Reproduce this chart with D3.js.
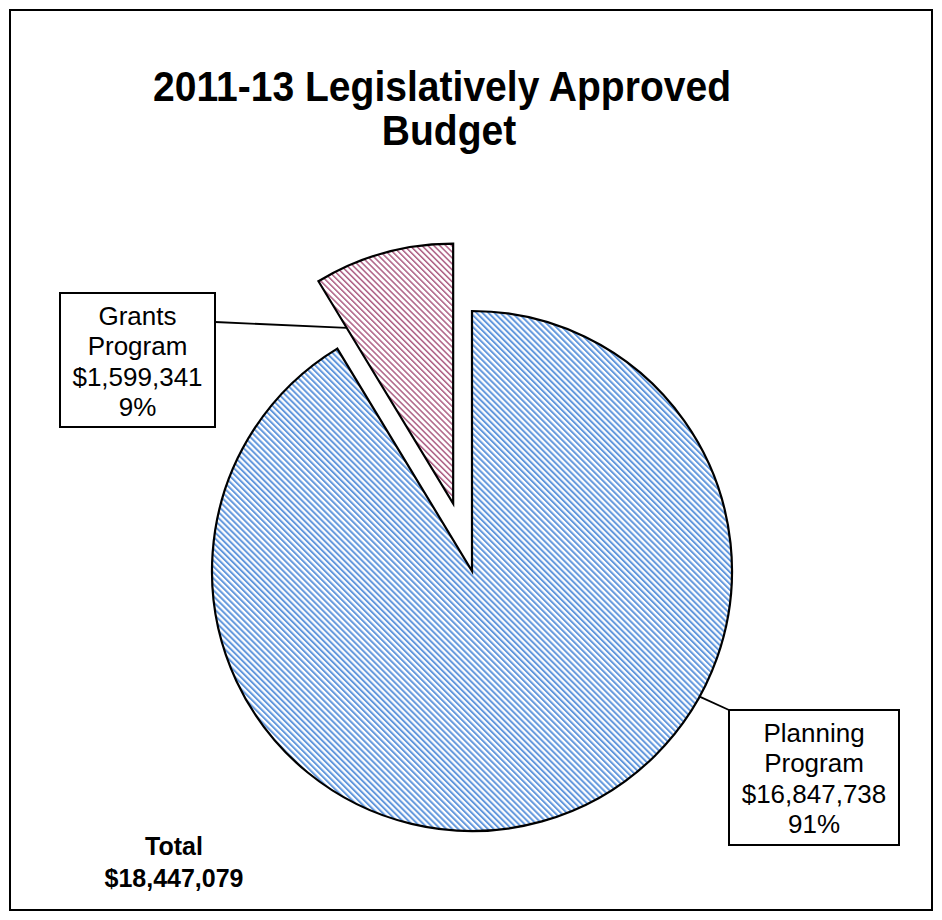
<!DOCTYPE html>
<html>
<head>
<meta charset="utf-8">
<script src="https://cdn.jsdelivr.net/npm/d3@7"></script>
<style>
  html, body { margin: 0; padding: 0; background: #fff; }
  svg { display: block; }
  text { font-family: "Liberation Sans", Arial, sans-serif; fill: #000; }
</style>
</head>
<body>
<svg id="chart" width="942" height="920"></svg>
<script>
// ---- data ----
const titleLines = ["2011-13 Legislatively Approved", "Budget"];
const categories = ["Planning Program", "Grants Program"];
const values = [16847738, 1599341];
const totalLabel = "Total";
const totalValue = 18447079;

// ---- layout ----
const W = 942, H = 920;
const cx = 472, cy = 571, R = 260;
const explode = [0, 70];
const stripeColors = ["#6398dd", "#ad5f84"];
const stripeWidths = [2.0, 1.5];
const P = 4.2;

const svg = d3.select("#chart");
svg.append("rect").attr("x", 0).attr("y", 0).attr("width", W).attr("height", H).attr("fill", "#fff");

// patterns
const defs = svg.append("defs");
stripeColors.forEach((c, i) => {
  const p = defs.append("pattern")
    .attr("id", "stripe" + i)
    .attr("patternUnits", "userSpaceOnUse")
    .attr("width", P).attr("height", P)
    .attr("patternTransform", "rotate(-45)");
  p.append("rect").attr("width", P).attr("height", P).attr("fill", "#fff");
  p.append("rect").attr("width", stripeWidths[i]).attr("height", P).attr("fill", c);
});

// frame
svg.append("rect")
  .attr("x", 10).attr("y", 10).attr("width", 922).attr("height", 900)
  .attr("fill", "none").attr("stroke", "#000").attr("stroke-width", 2);

// title
const titleBase = [101, 145];
const titleX = [442, 449];
titleLines.forEach((t, i) => {
  svg.append("g")
    .attr("transform", `translate(${titleX[i]},${titleBase[i]}) scale(0.93,1)`)
    .append("text")
    .attr("text-anchor", "middle")
    .attr("font-size", 42)
    .attr("font-weight", "bold")
    .text(t);
});

// pie
const pie = d3.pie().sort(null).value(d => d).startAngle(0).endAngle(2 * Math.PI);
const arcs = pie(values);
const arc = d3.arc().innerRadius(0).outerRadius(R);

const offs = arcs.map((a, i) => {
  const m = (a.startAngle + a.endAngle) / 2;
  return [explode[i] * Math.sin(m), -explode[i] * Math.cos(m)];
});

svg.append("g").selectAll("path")
  .data(arcs)
  .join("path")
  .attr("transform", (d, i) => `translate(${cx + offs[i][0]},${cy + offs[i][1]})`)
  .attr("d", arc)
  .attr("fill", (d, i) => `url(#stripe${i})`)
  .attr("stroke", "#000")
  .attr("stroke-width", 2.2)
  .attr("stroke-linejoin", "miter");

// labels
const fmt = d3.format(",");
const pct = d3.format(".0%");
const boxes = [
  { x: 729, y: 710, w: 170, h: 135 },
  { x: 60, y: 293, w: 155, h: 134 }
];
const leaders = [
  { ang: a => 2.075, rf: 1.0, to: b => [b.x, b.y] },
  { ang: a => a.startAngle, rf: 0.79, to: b => [b.x + b.w, b.y + 29] }
];

arcs.forEach((a, i) => {
  const b = boxes[i];
  const ang = leaders[i].ang(a);
  const r = R * leaders[i].rf;
  const px = cx + offs[i][0] + r * Math.sin(ang);
  const py = cy + offs[i][1] - r * Math.cos(ang);
  const [tx, ty] = leaders[i].to(b);
  svg.append("line")
    .attr("x1", px).attr("y1", py).attr("x2", tx).attr("y2", ty)
    .attr("stroke", "#000").attr("stroke-width", 1.8);
  svg.append("rect")
    .attr("x", b.x).attr("y", b.y).attr("width", b.w).attr("height", b.h)
    .attr("fill", "#fff").attr("stroke", "#000").attr("stroke-width", 2);
  const lines = categories[i].split(" ").concat(["$" + fmt(values[i]), pct(values[i] / totalValue)]);
  const t = svg.append("text")
    .attr("text-anchor", "middle")
    .attr("font-size", 26);
  lines.forEach((ln, j) => {
    t.append("tspan")
      .attr("x", b.x + b.w / 2)
      .attr("y", b.y + 32 + j * 30.3)
      .text(ln);
  });
});

// total
const tt = svg.append("text")
  .attr("text-anchor", "middle")
  .attr("font-size", 25)
  .attr("font-weight", "bold");
tt.append("tspan").attr("x", 174).attr("y", 855).text(totalLabel);
tt.append("tspan").attr("x", 174).attr("y", 887).text("$" + fmt(totalValue));
</script>
</body>
</html>
